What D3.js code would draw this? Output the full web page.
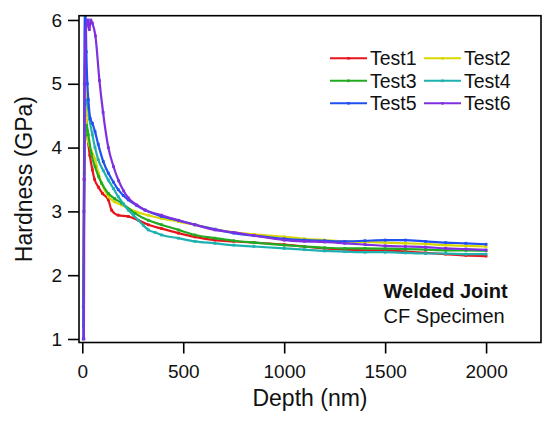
<!DOCTYPE html>
<html>
<head>
<meta charset="utf-8">
<script src="https://cdn.jsdelivr.net/npm/d3@7"></script>
<style>
  body { margin: 0; background: #fff; }
  svg { font-family: "Liberation Sans", Arial, sans-serif; }
</style>
</head>
<body>
<div id="chart"></div>
<script>
// hardness vs depth, [depth nm, hardness GPa]
const test1 = [[5,1.5],[9,3.5],[13,4.3],[18,4.5],[25,4.2],[37,3.88],[50,3.65],[61,3.5],[80,3.38],[100,3.28],[129,3.18],[145,3.02],[178,2.94],[228,2.92],[278,2.86],[327,2.79],[393,2.73],[476,2.66],[558,2.60],[657,2.55],
  [750,2.53],[850,2.51],[1000,2.48],[1100,2.45],[1200,2.42],[1300,2.40],[1400,2.39],[1500,2.39],[1600,2.37],[1700,2.35],[1800,2.33],[1900,2.31],[2000,2.30]];
const test2 = [[5,1.3],[9,4.0],[13,5.25],[17,4.8],[22,4.3],[30,4.1],[45,3.95],[63,3.82],[80,3.6],[96,3.44],[129,3.23],[160,3.15],[195,3.10],[261,3.00],[327,2.94],[393,2.89],[476,2.84],[558,2.79],[657,2.72],
  [750,2.67],[850,2.64],[1000,2.60],[1100,2.57],[1200,2.55],[1300,2.53],[1400,2.52],[1500,2.51],[1600,2.50],[1700,2.49],[1800,2.47],[1900,2.46],[2000,2.45]];
const test3 = [[6,1.5],[10,3.6],[15,4.2],[22,4.35],[30,4.2],[45,3.9],[63,3.7],[80,3.55],[96,3.44],[129,3.28],[160,3.2],[195,3.13],[261,2.97],[327,2.86],[393,2.79],[476,2.71],[558,2.63],[657,2.58],
  [750,2.54],[850,2.51],[1000,2.47],[1100,2.45],[1200,2.43],[1300,2.42],[1400,2.42],[1500,2.415],[1600,2.41],[1700,2.40],[1800,2.39],[1900,2.39],[2000,2.385]];
const test4 = [[6,1.2],[9,3.5],[12,4.5],[18,4.75],[25,4.7],[35,4.45],[50,4.2],[63,4.0],[79,3.81],[104,3.64],[129,3.49],[154,3.36],[178,3.23],[203,3.12],[228,3.02],[253,2.94],[278,2.86],[303,2.78],[327,2.71],[360,2.67],[393,2.63],[476,2.58],[558,2.53],[657,2.50],
  [750,2.47],[850,2.45],[1000,2.42],[1100,2.40],[1200,2.38],[1300,2.37],[1400,2.36],[1500,2.36],[1600,2.35],[1700,2.34],[1800,2.34],[1900,2.33],[2000,2.33]];
const test5 = [[5,1.0],[8,3.0],[10,5.0],[13,6.2],[16,6.2],[20,5.5],[25,5.0],[30,4.75],[40,4.45],[50,4.38],[63,4.25],[79,4.05],[104,3.78],[129,3.60],[154,3.46],[178,3.34],[203,3.25],[228,3.18],[270,3.09],[311,3.02],[393,2.92],[476,2.86],[558,2.79],[657,2.72],
  [750,2.66],[850,2.62],[1000,2.57],[1100,2.55],[1200,2.54],[1300,2.53],[1400,2.54],[1500,2.55],[1600,2.55],[1700,2.53],[1800,2.51],[1900,2.50],[2000,2.485]];
const test6 = [[8,1.0],[10,3.5],[12,5.0],[15,5.6],[20,5.9],[28,6.0],[35,5.85],[42,6.0],[50,5.95],[65,5.75],[85,5.05],[103,4.55],[129,4.0],[155,3.7],[180,3.48],[205,3.32],[228,3.21],[270,3.1],[311,3.02],[393,2.94],[476,2.86],[558,2.79],[657,2.71],
  [750,2.67],[850,2.62],[1000,2.55],[1100,2.53],[1200,2.52],[1300,2.50],[1400,2.48],[1500,2.46],[1600,2.45],[1700,2.44],[1800,2.42],[1900,2.41],[2000,2.395]];

const names = ['Test1', 'Test2', 'Test3', 'Test4', 'Test5', 'Test6'];
const colors = ['#e8141c', '#d8d800', '#22aa22', '#1fb0b0', '#2050f0', '#8030e0'];
const xTicks = [0, 500, 1000, 1500, 2000];
const yTicks = [1, 2, 3, 4, 5, 6];

const series = [test1, test2, test3, test4, test5, test6];

const width = 550;
const height = 421;
const margin = { top: 15.7, right: 9, bottom: 78.5, left: 79 };

const svg = d3.select('#chart')
  .append('svg')
  .attr('width', width)
  .attr('height', height);

const x = d3.scaleLinear()
  .domain([-16.3, 2272])
  .range([margin.left, width - margin.right]);

const y = d3.scaleLinear()
  .domain([0.945, 6.067])
  .range([height - margin.bottom, margin.top]);

svg.append('clipPath').attr('id', 'plot')
  .append('rect')
  .attr('x', margin.left).attr('y', margin.top)
  .attr('width', width - margin.left - margin.right)
  .attr('height', height - margin.top - margin.bottom);

const line = d3.line().x(d => x(d[0])).y(d => y(d[1])).curve(d3.curveMonotoneX);

// curves drawn in legend order
const g = svg.append('g').attr('clip-path', 'url(#plot)');
series.forEach((s, i) => {
  g.append('path')
    .datum(s)
    .attr('fill', 'none')
    .attr('stroke', colors[i])
    .attr('stroke-width', 2.2)
    .attr('stroke-linejoin', 'round')
    .attr('d', line);
  g.append('g')
    .selectAll('rect')
    .data(s)
    .join('rect')
    .attr('x', d => x(d[0]) - 1.4)
    .attr('y', d => y(d[1]) - 1.4)
    .attr('width', 2.8)
    .attr('height', 2.8)
    .attr('fill', colors[i]);
});

// frame
svg.append('rect')
  .attr('x', margin.left).attr('y', margin.top)
  .attr('width', width - margin.left - margin.right)
  .attr('height', height - margin.top - margin.bottom)
  .attr('fill', 'none')
  .attr('stroke', '#000')
  .attr('stroke-width', 1.6);

function xAxis(g) {
  g.attr('transform', `translate(0, ${height - margin.bottom})`)
    .call(d3.axisBottom(x).tickValues(xTicks).tickSize(11).tickPadding(11.5).tickFormat(d3.format('d')))
    .call(g => g.select('.domain').remove())
    .style('font-size', '19px')
    .style('font-family', '"Liberation Sans", Arial, sans-serif');
  g.selectAll('.tick line').attr('stroke-width', 1.6);
  g.selectAll('.tick text').attr('fill', '#111');
}

function yAxis(g) {
  g.attr('transform', `translate(${margin.left},0)`)
    .call(d3.axisLeft(y).tickValues(yTicks).tickSize(11).tickPadding(6).tickFormat(d3.format('d')))
    .call(g => g.select('.domain').remove())
    .style('font-size', '19px')
    .style('font-family', '"Liberation Sans", Arial, sans-serif');
  g.selectAll('.tick line').attr('stroke-width', 1.6);
  g.selectAll('.tick text').attr('fill', '#111');
}

svg.append('g').call(xAxis);
svg.append('g').call(yAxis);

// axis titles
svg.append('text')
  .attr('x', (margin.left + width - margin.right) / 2)
  .attr('y', 405.7)
  .attr('text-anchor', 'middle')
  .style('font-size', '23px')
  .attr('fill', '#111')
  .text('Depth (nm)');

svg.append('text')
  .attr('transform', `translate(32.3, ${(margin.top + height - margin.bottom) / 2}) rotate(-90)`)
  .attr('text-anchor', 'middle')
  .style('font-size', '23px')
  .attr('fill', '#111')
  .text('Hardness (GPa)');

// legend, two columns
const legend = svg.append('g');
names.forEach((n, i) => {
  const col = i % 2;
  const row = Math.floor(i / 2);
  const lx = 330 + col * 94;
  const ly = 58.3 + row * 22.5;
  legend.append('line')
    .attr('x1', lx).attr('x2', lx + 37)
    .attr('y1', ly).attr('y2', ly)
    .attr('stroke', colors[i])
    .attr('stroke-width', 2);
  legend.append('rect')
    .attr('x', lx + 17.2).attr('y', ly - 1.3)
    .attr('width', 2.6).attr('height', 2.6)
    .attr('fill', colors[i]);
  legend.append('text')
    .attr('x', lx + 40)
    .attr('y', ly + 6.8)
    .style('font-size', '19.5px')
    .attr('fill', '#111')
    .text(n);
});

// annotation
svg.append('text')
  .attr('x', 383.6).attr('y', 298)
  .style('font-size', '20px')
  .style('font-weight', 'bold')
  .attr('fill', '#111')
  .text('Welded Joint');
svg.append('text')
  .attr('x', 383.6).attr('y', 322.8)
  .style('font-size', '20px')
  .attr('fill', '#111')
  .text('CF Specimen');
</script>
</body>
</html>
